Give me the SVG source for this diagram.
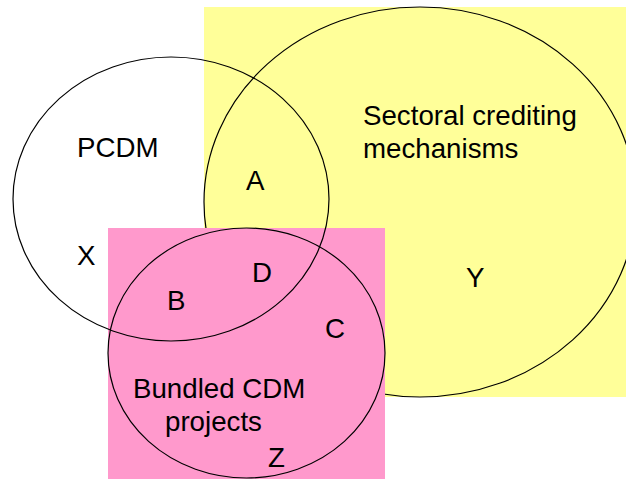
<svg xmlns="http://www.w3.org/2000/svg" width="626" height="479" viewBox="0 0 626 479">
<style>
.o{fill:none;stroke:#000;stroke-width:1.2}
text{font-family:"Liberation Sans",Arial,sans-serif;font-size:27.7px;fill:#000}
</style>
<rect width="626" height="479" fill="#fff"/>
<g id="sectoral">
<rect x="204" y="7" width="422" height="390" fill="#FFFF99"/>
<ellipse class="o" cx="420" cy="202" rx="216" ry="195"/>
<text x="363" y="125">Sectoral crediting</text>
<text x="363" y="158">mechanisms</text>
</g>
<g id="bundled-bg">
<rect x="108" y="228" width="277" height="251" fill="#FF99CC"/>
</g>
<g id="pcdm">
<ellipse class="o" cx="171" cy="199" rx="158" ry="142"/>
<text x="77" y="157">PCDM</text>
</g>
<g id="bundled">
<ellipse class="o" cx="246.5" cy="353" rx="138.5" ry="125"/>
<text x="133" y="398">Bundled CDM</text>
<text x="165" y="431">projects</text>
</g>
<g id="labels">
<text x="246" y="190">A</text>
<text x="77" y="265">X</text>
<text x="252" y="282">D</text>
<text x="167" y="310">B</text>
<text x="325" y="338">C</text>
<text x="268" y="467">Z</text>
<text x="466" y="287">Y</text>
</g>
<g id="connectors"></g>
</svg>
